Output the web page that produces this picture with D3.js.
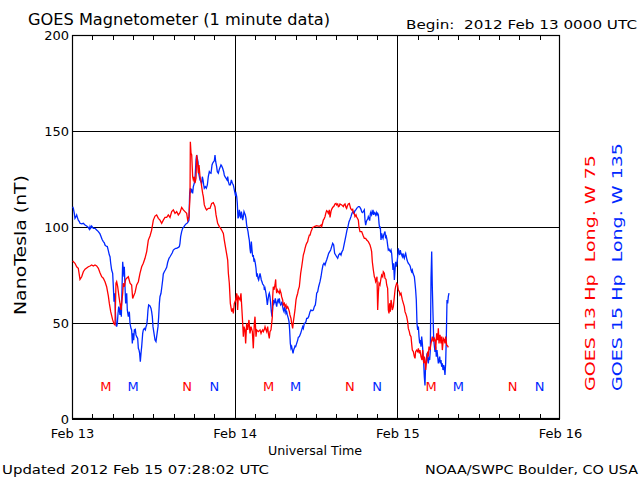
<!DOCTYPE html>
<html><head><meta charset="utf-8">
<script src="https://cdn.jsdelivr.net/npm/d3@7"></script>
<style>
html,body{margin:0;padding:0;background:#fff;}
svg{display:block;font-family:"DejaVu Sans","Liberation Sans",sans-serif;}
svg text{white-space:pre;}
</style></head>
<body><svg id="chart" width="640" height="480"></svg>
<script>
// ---- data (hours since 2012 Feb 13 00:00 UTC, nT) ----
const goes13Hp = [
[0.1,82.3],[0.44,81.1],[0.69,79.3],[0.93,78.5],[1.18,72.7],[1.43,74.1],[1.67,76.7],[1.92,78.0],[2.41,79.3],[2.66,79.7],[2.9,80.2],[3.15,79.7],[3.39,80.2],[3.64,79.7],[3.89,78.5],[4.13,76.2],[4.38,74.1],[4.62,73.3],[4.87,71.5],[5.11,68.9],[5.36,64.1],[5.51,60.2],[5.71,55.9],[6.0,51.6],[6.2,49.5],[6.34,49],[6.49,70.7],[6.59,71.5],[6.74,68.9],[6.93,63.7],[7.08,60.2],[7.23,56.8],[7.33,60.2],[7.48,65.5],[7.57,70.7],[7.72,68.9],[7.92,72.7],[8.07,73.3],[8.31,74.1],[8.56,70.7],[8.8,69.8],[8.95,62.8],[9.15,64.6],[9.3,65.8],[9.54,69.8],[9.79,71.5],[10.03,75.9],[10.28,79.3],[10.52,81.1],[10.77,83.7],[11.02,87.2],[11.26,93.2],[11.51,95.3],[11.75,98.4],[12.0,103.6],[12.25,105.7],[12.49,106.3],[12.74,104.5],[12.98,103.6],[13.23,101.9],[13.47,103.6],[13.72,105.0],[13.97,105.0],[14.21,106.3],[14.46,105.0],[14.71,108.0],[14.95,108.9],[15.2,107.1],[15.44,108.0],[15.69,106.3],[15.93,107.5],[16.18,110.2],[16.43,108.9],[16.67,108.0],[16.92,107.1],[17.07,103.6],[17.26,105.4],[17.41,115.8],[17.46,144.4],[17.56,138.4],[17.66,137.5],[17.8,126.2],[17.9,124.5],[18.05,126.2],[18.15,122.8],[18.3,125.4],[18.39,137.5],[18.54,133.2],[18.64,128.0],[18.74,132.3],[18.89,126.2],[19.03,123.6],[19.13,121.0],[19.28,117.5],[19.38,115.8],[19.52,111.5],[19.72,109.7],[19.87,108.9],[20.11,109.7],[20.36,109.7],[20.61,112.3],[20.85,112.7],[21.0,111.5],[21.1,110.6],[21.25,106.3],[21.49,101.9],[21.74,100.2],[21.93,99.3],[22.08,98.4],[22.33,96.7],[22.47,93.2],[22.72,88.0],[22.97,82.8],[23.07,75.9],[23.21,70.7],[23.36,60.2],[23.56,55.9],[23.71,57.6],[23.8,55.0],[23.95,60.2],[24.15,62.0],[24.3,65.5],[24.44,56.8],[24.54,63.7],[24.79,62.0],[24.93,65.5],[25.13,53.3],[25.28,42.9],[25.38,48.1],[25.52,46.4],[25.62,39.4],[25.77,49.8],[25.92,46.4],[26.11,51.6],[26.26,44.6],[26.41,48.1],[26.61,45.5],[26.75,36.8],[26.9,49.8],[27.0,53.3],[27.15,42.9],[27.25,46.4],[27.49,45.5],[27.74,46.4],[27.89,44.6],[27.98,45.5],[28.13,46.4],[28.23,45.5],[28.38,46.7],[28.48,48.1],[28.62,46.4],[28.72,45.5],[28.87,48.1],[28.97,44.6],[29.11,42.0],[29.21,45.5],[29.36,46.4],[29.46,49.8],[29.56,53.3],[29.61,63.7],[29.7,68.9],[29.8,67.2],[29.95,69.8],[30.05,72.7],[30.1,68.9],[30.2,65.5],[30.3,67.2],[30.44,66.3],[30.59,65.5],[30.69,67.2],[30.84,65.5],[30.93,63.7],[31.08,62.0],[31.18,59.4],[31.33,60.2],[31.43,58.5],[31.57,59.4],[31.67,57.6],[31.82,58.5],[31.92,57.6],[32.07,55.9],[32.16,54.2],[32.31,52.4],[32.41,49.8],[32.56,47.2],[32.66,50.7],[32.8,54.2],[32.9,56.8],[33.05,62.0],[33.15,63.7],[33.3,65.5],[33.39,67.2],[33.54,68.9],[33.64,72.4],[33.74,75.9],[33.89,79.3],[34.03,82.8],[34.13,85.4],[34.28,87.2],[34.38,88.9],[34.52,90.6],[34.62,91.5],[34.77,92.4],[34.87,94.1],[35.02,95.8],[35.12,95.8],[35.26,97.6],[35.36,98.4],[35.51,99.8],[35.61,99.8],[35.75,100.2],[36.1,100.7],[36.34,100.5],[36.59,100.5],[36.74,101.0],[36.84,100.2],[36.98,102.2],[37.08,103.6],[37.23,104.5],[37.33,105.4],[37.47,107.5],[37.57,108.5],[37.72,108.0],[37.82,107.1],[37.97,108.9],[38.07,105.0],[38.21,108.0],[38.31,109.2],[38.46,110.2],[38.66,110.9],[38.8,112.0],[38.95,112.3],[39.05,111.5],[39.2,112.0],[39.3,110.6],[39.44,110.9],[39.54,112.0],[39.79,111.5],[40.03,110.6],[40.13,111.5],[40.28,112.0],[40.43,110.2],[40.52,109.7],[40.62,110.9],[40.77,112.0],[40.92,112.3],[41.02,110.9],[41.11,109.7],[41.26,108.9],[41.41,109.2],[41.51,107.5],[41.66,106.8],[41.75,105.4],[41.9,106.3],[42.0,105.2],[42.15,104.3],[42.25,103.5],[42.34,100.0],[42.49,97.6],[42.74,97.6],[42.98,95.3],[43.13,94.1],[43.33,94.1],[43.48,93.2],[43.72,92.4],[43.97,90.6],[44.11,88.9],[44.21,87.2],[44.31,81.9],[44.46,77.6],[44.61,74.1],[44.71,73.3],[44.8,71.5],[44.9,72.4],[45.0,74.1],[45.1,56.8],[45.2,65.5],[45.3,70.7],[45.44,69.8],[45.59,73.3],[45.69,75.0],[45.84,74.1],[45.93,76.7],[46.08,75.9],[46.18,73.3],[46.33,72.7],[46.43,69.8],[46.57,68.1],[46.67,56.8],[46.77,55.0],[46.87,60.2],[46.97,55.9],[47.07,62.0],[47.16,60.2],[47.26,56.8],[47.41,58.5],[47.56,63.7],[47.66,67.2],[47.75,68.9],[47.9,70.7],[48.05,69.8],[48.15,67.2],[48.3,66.3],[48.39,64.6],[48.54,65.5],[48.64,63.7],[48.74,62.0],[48.89,60.2],[49.03,58.5],[49.13,55.9],[49.23,55.0],[49.38,53.3],[49.52,50.7],[49.62,47.2],[49.77,45.5],[49.87,43.8],[50.02,42.9],[50.11,39.4],[50.21,35.9],[50.36,35.1],[50.51,32.5],[50.61,31.6],[50.7,35.1],[50.85,35.9],[51.0,35.1],[51.1,36.8],[51.25,34.2],[51.34,35.9],[51.49,32.5],[51.64,30.7],[51.74,35.9],[51.89,29.0],[51.98,32.5],[52.08,30.7],[52.18,25.5],[52.33,30.7],[52.48,35.1],[52.57,32.5],[52.67,37.7],[52.82,35.9],[52.97,39.4],[53.07,41.1],[53.16,42.9],[53.31,40.3],[53.46,42.0],[53.56,41.1],[53.66,35.9],[53.8,44.6],[53.95,41.1],[54.05,47.2],[54.15,39.4],[54.3,43.8],[54.44,39.4],[54.54,42.9],[54.64,35.9],[54.79,42.0],[54.93,41.1],[55.03,39.4],[55.13,42.9],[55.28,38.5],[55.43,38.0],[55.52,37.3]
];
const goes15Hp = [
[0.1,110.6],[0.2,109.7],[0.34,107.1],[0.44,104.5],[0.59,105.4],[0.69,106.3],[0.84,104.5],[0.93,103.6],[1.08,102.8],[1.18,101.9],[1.43,101.6],[1.67,101.9],[1.92,101.0],[2.16,100.5],[2.41,99.8],[2.56,98.8],[2.66,100.2],[2.75,99.3],[2.9,100.5],[3.05,99.8],[3.15,99.3],[3.39,99.3],[3.64,98.4],[3.89,97.6],[4.13,96.4],[4.28,95.0],[4.43,93.6],[4.62,92.4],[4.77,91.8],[4.87,90.6],[5.02,90.1],[5.21,89.8],[5.36,87.7],[5.51,85.4],[5.61,84.5],[5.71,81.1],[5.85,77.6],[6.0,75.9],[6.1,68.9],[6.2,61.1],[6.3,65.5],[6.39,56.8],[6.49,49.8],[6.59,48.1],[6.69,49.8],[6.79,55.0],[6.89,58.5],[6.98,56.8],[7.08,54.2],[7.18,60.2],[7.28,53.3],[7.38,68.1],[7.48,81.9],[7.57,77.6],[7.67,74.1],[7.72,79.3],[7.82,68.9],[7.92,60.2],[8.07,65.5],[8.16,56.8],[8.31,53.3],[8.46,55.9],[8.56,49.8],[8.7,47.2],[8.8,46.4],[8.9,39.4],[9.0,44.6],[9.1,41.1],[9.2,46.4],[9.34,46.7],[9.44,43.8],[9.54,42.9],[9.69,42.0],[9.79,36.8],[9.89,35.9],[9.98,34.2],[10.08,29.8],[10.18,34.2],[10.28,37.7],[10.43,44.6],[10.52,46.4],[10.67,47.2],[10.82,46.4],[10.92,48.1],[11.02,49.0],[11.11,51.6],[11.21,56.8],[11.31,59.4],[11.51,58.9],[11.66,57.6],[11.75,55.9],[11.85,53.3],[11.95,48.1],[12.1,44.6],[12.25,41.1],[12.39,40.3],[12.49,42.9],[12.59,45.5],[12.69,48.1],[12.79,53.3],[12.89,60.2],[12.98,63.7],[13.13,65.5],[13.23,68.1],[13.38,72.4],[13.47,75.5],[13.62,76.7],[13.77,77.6],[13.97,79.0],[14.11,81.5],[14.31,83.7],[14.46,84.5],[14.61,85.4],[14.8,86.6],[14.95,88.0],[15.1,88.4],[15.3,88.9],[15.44,88.9],[15.69,89.4],[15.84,89.8],[15.93,91.5],[16.03,95.0],[16.18,97.6],[16.33,99.3],[16.52,100.2],[16.67,101.0],[16.82,101.6],[16.97,101.9],[17.16,102.8],[17.26,103.6],[17.36,117.5],[17.46,120.2],[17.56,118.4],[17.66,119.3],[17.8,117.5],[17.9,121.0],[18.05,122.8],[18.15,125.4],[18.3,134.9],[18.39,137.5],[18.49,135.8],[18.59,134.0],[18.69,128.0],[18.79,126.2],[18.89,124.5],[19.03,123.6],[19.13,122.8],[19.23,126.2],[19.33,124.5],[19.43,121.9],[19.52,120.2],[19.67,121.0],[19.82,120.2],[19.97,121.9],[20.11,126.2],[20.26,128.8],[20.36,128.3],[20.51,128.0],[20.66,132.3],[20.75,133.2],[20.9,134.0],[21.0,134.5],[21.1,137.5],[21.2,134.0],[21.34,131.4],[21.44,128.8],[21.59,128.0],[21.74,130.1],[21.88,131.4],[21.98,132.3],[22.08,131.8],[22.23,130.6],[22.38,128.8],[22.47,127.1],[22.57,126.2],[22.72,125.4],[22.87,124.5],[22.97,126.2],[23.07,123.6],[23.21,121.9],[23.36,121.9],[23.51,124.5],[23.66,122.8],[23.8,121.9],[23.9,120.2],[24.0,118.4],[24.1,116.7],[24.2,117.5],[24.3,115.8],[24.39,112.3],[24.49,104.5],[24.59,105.4],[24.69,108.9],[24.79,106.3],[24.89,104.5],[24.98,108.0],[25.08,106.3],[25.18,103.6],[25.28,105.4],[25.38,108.0],[25.48,107.1],[25.57,106.3],[25.67,104.5],[25.77,101.0],[25.87,99.3],[25.97,97.6],[26.07,95.0],[26.16,93.2],[26.26,88.9],[26.36,86.3],[26.46,92.4],[26.56,88.0],[26.66,84.5],[26.75,85.4],[26.85,81.9],[26.95,82.8],[27.05,81.1],[27.15,78.5],[27.25,74.1],[27.34,75.9],[27.44,73.3],[27.54,72.4],[27.64,74.1],[27.74,75.9],[27.84,74.1],[27.93,72.4],[28.03,71.5],[28.13,70.3],[28.23,69.8],[28.33,69.3],[28.38,67.2],[28.48,68.1],[28.62,65.5],[28.72,62.8],[28.82,59.4],[28.92,62.0],[29.02,64.6],[29.11,65.5],[29.21,63.7],[29.31,60.2],[29.41,55.9],[29.51,53.3],[29.61,57.6],[29.7,62.0],[29.8,60.2],[29.9,61.1],[30.0,62.8],[30.1,60.2],[30.2,58.5],[30.3,61.1],[30.39,62.0],[30.49,61.1],[30.59,62.8],[30.69,60.2],[30.79,59.4],[30.89,60.2],[30.98,61.1],[31.08,58.5],[31.18,56.8],[31.28,55.9],[31.38,58.5],[31.48,56.8],[31.57,55.0],[31.67,55.9],[31.77,54.2],[31.92,52.4],[32.02,50.7],[32.11,46.4],[32.21,39.4],[32.31,36.8],[32.41,37.7],[32.51,35.9],[32.61,34.2],[32.7,35.9],[32.8,36.8],[32.9,38.0],[33.0,37.7],[33.15,39.4],[33.3,41.1],[33.39,42.5],[33.54,42.9],[33.64,43.8],[33.74,44.6],[33.89,46.4],[34.03,48.1],[34.13,47.2],[34.28,49.8],[34.38,49.8],[34.52,50.7],[34.62,52.4],[34.77,52.4],[34.92,53.3],[35.12,55.9],[35.26,56.8],[35.41,56.4],[35.61,56.8],[35.75,58.5],[35.9,59.4],[36.0,62.0],[36.1,65.5],[36.25,66.3],[36.39,68.9],[36.59,71.5],[36.74,74.1],[36.89,77.6],[37.03,80.2],[37.18,81.1],[37.33,80.2],[37.47,81.9],[37.57,82.8],[37.72,84.5],[37.87,86.3],[38.02,87.2],[38.16,88.0],[38.31,89.8],[38.46,91.5],[38.61,90.6],[38.75,86.3],[38.9,85.4],[39.05,84.5],[39.2,83.7],[39.34,85.4],[39.54,86.3],[39.69,85.4],[39.84,87.2],[39.98,88.0],[40.13,90.6],[40.28,93.2],[40.43,95.8],[40.57,98.4],[40.72,100.2],[40.87,102.8],[41.02,104.0],[41.16,105.4],[41.31,107.1],[41.46,108.0],[41.61,107.1],[41.75,108.5],[41.9,109.0],[42.0,109.7],[42.15,110.2],[42.25,110.6],[42.39,110.6],[42.49,110.2],[42.64,109.2],[42.74,108.0],[42.84,107.5],[42.98,108.0],[43.13,108.9],[43.23,103.6],[43.33,101.0],[43.43,102.8],[43.52,103.6],[43.62,104.0],[43.72,105.4],[43.82,104.5],[43.92,103.3],[44.02,107.1],[44.11,108.0],[44.21,106.3],[44.31,107.1],[44.41,108.9],[44.51,106.3],[44.61,107.5],[44.71,107.1],[44.8,106.3],[44.9,107.5],[45.0,106.3],[45.1,107.1],[45.2,106.3],[45.3,101.9],[45.39,99.3],[45.49,100.2],[45.59,93.2],[45.69,96.7],[45.79,95.0],[45.89,94.1],[45.98,95.8],[46.08,96.7],[46.18,97.6],[46.28,94.1],[46.38,95.0],[46.48,93.2],[46.57,90.6],[46.67,88.0],[46.77,88.4],[46.87,87.7],[46.97,87.2],[47.07,88.0],[47.16,86.3],[47.26,81.9],[47.36,77.6],[47.46,81.1],[47.56,72.4],[47.66,77.6],[47.75,81.9],[47.85,79.3],[47.95,81.1],[48.05,84.5],[48.15,88.9],[48.25,86.6],[48.34,85.4],[48.44,88.0],[48.54,86.3],[48.64,85.4],[48.74,84.5],[48.84,86.3],[48.93,84.5],[49.03,83.7],[49.13,85.4],[49.23,86.3],[49.33,84.5],[49.43,82.8],[49.52,81.9],[49.62,81.1],[49.72,80.7],[49.82,80.2],[49.92,79.3],[50.02,77.6],[50.11,76.7],[50.21,77.6],[50.31,75.9],[50.41,75.0],[50.51,74.1],[50.61,70.7],[50.7,67.2],[50.8,62.0],[50.9,49.8],[51.0,46.4],[51.1,48.1],[51.2,42.9],[51.3,39.4],[51.39,41.1],[51.49,37.7],[51.59,42.9],[51.69,39.4],[51.79,34.2],[51.89,29.0],[51.98,22.0],[52.08,17.5],[52.18,29.0],[52.28,30.7],[52.38,34.2],[52.48,30.7],[52.57,29.0],[52.67,32.5],[52.77,30.7],[52.87,35.9],[52.97,73.3],[53.07,87.2],[53.16,69.0],[53.26,55.0],[53.36,42.0],[53.46,38.0],[53.56,35.0],[53.66,37.7],[53.75,32.5],[53.85,35.9],[53.95,32.5],[54.05,29.0],[54.15,30.7],[54.25,32.5],[54.34,29.0],[54.44,30.7],[54.54,27.2],[54.64,29.0],[54.74,25.5],[54.84,28.1],[54.93,26.4],[55.03,22.9],[55.13,29.0],[55.23,42.9],[55.33,62.0],[55.43,60.2],[55.52,63.7],[55.62,65.5]
];
const dayLabels = ["Feb 13","Feb 14","Feb 15","Feb 16"];
const dayHours = [0,24,48,72];
const yTicks = [0,50,100,150,200];
// local midnight (M) / noon (N) markers, hours UTC
const markersG13 = [[5,"M"],[17,"N"],[29,"M"],[41,"N"],[53,"M"],[65,"N"]];
const markersG15 = [[9,"M"],[21,"N"],[33,"M"],[45,"N"],[57,"M"],[69,"N"]];

const RED = "#ff0000", BLUE = "#0028ff";
const svg = d3.select("#chart");
const L = 72, R = 560, T = 35, B = 419;
const x = d3.scaleLinear().domain([0,72]).range([L,R]);
const y = d3.scaleLinear().domain([0,200]).range([B,T]);

// gridlines + y labels
const yAx = svg.append("g").attr("transform",`translate(${L},0)`)
  .call(d3.axisLeft(y).tickValues(yTicks).tickSize(-(R-L)).tickSizeOuter(0).tickPadding(3));
yAx.select(".domain").remove();
yAx.selectAll("line").attr("stroke","#000").attr("shape-rendering","crispEdges");
yAx.selectAll("text").attr("font-size",13).attr("fill","#000").attr("font-family","DejaVu Sans");

// vertical day grid
const xGrid = svg.append("g").attr("transform",`translate(0,${B})`)
  .call(d3.axisBottom(x).tickValues([24,48]).tickSize(-(B-T)).tickFormat(""));
xGrid.select(".domain").remove();
xGrid.selectAll("line").attr("stroke","#000").attr("shape-rendering","crispEdges");

// minor 3-hour ticks, bottom and top (inside)
const hr3 = d3.range(3,72,3).filter(h=>h%24!==0);
const bt = svg.append("g").attr("transform",`translate(0,${B})`)
  .call(d3.axisBottom(x).tickValues(hr3).tickSize(-5).tickFormat("").tickSizeOuter(0));
bt.select(".domain").remove();
const tt = svg.append("g").attr("transform",`translate(0,${T})`)
  .call(d3.axisTop(x).tickValues(hr3).tickSize(-5).tickFormat("").tickSizeOuter(0));
tt.select(".domain").remove();
svg.selectAll(".tick line").attr("stroke","#000").attr("shape-rendering","crispEdges");

// day labels
const dl = svg.append("g").attr("transform",`translate(0,${B})`)
  .call(d3.axisBottom(x).tickValues(dayHours).tickSize(0).tickPadding(10)
    .tickFormat((d,i)=>dayLabels[i]));
dl.select(".domain").remove();
dl.selectAll("text").attr("font-size",13).attr("fill","#000").attr("font-family","DejaVu Sans");

// frame
svg.append("rect").attr("x",L+0.5).attr("y",T+0.5).attr("width",R-L-1).attr("height",B-T-1)
  .attr("fill","none").attr("stroke","#000").attr("stroke-width",1.2);

// data lines
const line = d3.line().x(d=>x(d[0])).y(d=>y(d[1]));
svg.append("path").datum(goes15Hp).attr("d",line).attr("fill","none").attr("stroke",BLUE).attr("stroke-width",1.3);
svg.append("path").datum(goes13Hp).attr("d",line).attr("fill","none").attr("stroke",RED).attr("stroke-width",1.3);

// M/N markers
function markers(arr,col){
  svg.append("g").selectAll("text").data(arr).join("text")
    .attr("x",d=>x(d[0])).attr("y",391).attr("text-anchor","middle")
    .attr("font-size",13).attr("fill",col).text(d=>d[1]);
}
markers(markersG13,RED); markers(markersG15,BLUE);

// texts
function txt(s,xx,yy,opt){
  const t = svg.append("text").attr("x",xx).attr("y",yy).attr("font-size",opt.size||13)
    .attr("fill",opt.fill||"#000").attr("xml:space","preserve").text(s);
  if(opt.anchor) t.attr("text-anchor",opt.anchor);
  if(opt.len) t.attr("textLength",opt.len).attr("lengthAdjust","spacingAndGlyphs");
  if(opt.rot) t.attr("transform",`rotate(-90,${xx},${yy})`);
  return t;
}
txt("GOES Magnetometer (1 minute data)",28,25,{size:15,len:302});
txt("Begin:  2012 Feb 13 0000 UTC",406,29,{size:13,len:231});
txt("Universal Time",268,455,{size:13,len:94});
txt("Updated 2012 Feb 15 07:28:02 UTC",2,474,{size:13,len:267});
txt("NOAA/SWPC Boulder, CO USA",425,474,{size:13,len:213});
txt("NanoTesla (nT)",26,315,{size:15,len:140,rot:true});
txt("GOES 13 Hp  Long. W 75",595,391,{size:14,len:236,rot:true,fill:RED});
txt("GOES 15 Hp  Long. W 135",622,391,{size:14,len:248,rot:true,fill:BLUE});
</script></body></html>
